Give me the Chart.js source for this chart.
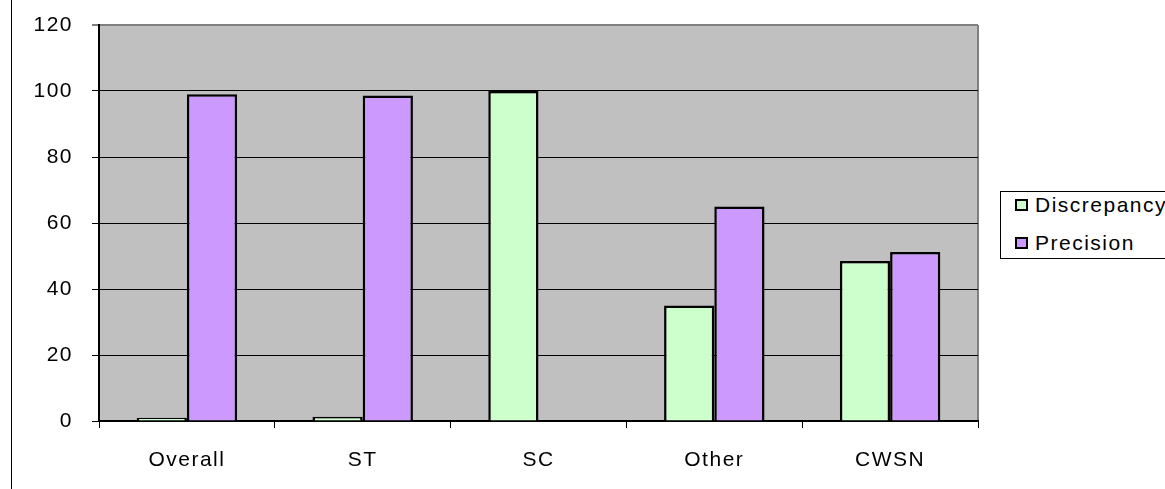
<!DOCTYPE html>
<html>
<head>
<meta charset="utf-8">
<script src="https://cdn.jsdelivr.net/npm/chart.js@4/dist/chart.umd.min.js"></script>
<style>
    body { margin: 0; background: #fff; }
    #wrap { position: relative; width: 1165px; height: 489px; overflow: hidden; }
    #legend {
        position: absolute; left: 1000px; top: 191px; width: 190px; height: 66px;
        border: 1px solid #000; background: #fff;
        font-family: "Liberation Sans", Arial, sans-serif; font-size: 21px; letter-spacing: 1.5px;
    }
    #legend .item { position: absolute; left: 14px; height: 24px; line-height: 24px; white-space: nowrap; }
    #legend .box { display: inline-block; width: 9px; height: 8px; border: 2px solid #000; margin-right: 7px; vertical-align: 1px; }
</style>
</head>
<body>
<div id="wrap">
    <canvas id="chart" width="1165" height="489"></canvas>
    <div id="legend"></div>
</div>
<script>
// Chart data
const categories = ['Overall', 'ST', 'SC', 'Other', 'CWSN'];
const discrepancy = [1, 1.3, 100, 35, 48.5];
const precision = [99, 98.6, 0, 65, 51.2];
const seriesNames = ['Discrepancy', 'Precision'];
const seriesColors = ['#CCFFCC', '#CC99FF'];

const FONT = '"Liberation Sans", Arial, sans-serif';

// Grey plot background, grey right edge, left page rule, letter spacing
const plotBackground = {
    id: 'plotBackground',
    beforeLayout(chart) {
        chart.ctx.letterSpacing = '1.5px';
    },
    beforeDraw(chart) {
        const { ctx, chartArea: a } = chart;
        ctx.letterSpacing = '1.5px';
        ctx.save();
        ctx.fillStyle = '#C0C0C0';
        ctx.fillRect(a.left, a.top, a.right - a.left, a.bottom - a.top);
        ctx.strokeStyle = '#808080';
        ctx.lineWidth = 2;
        ctx.beginPath();
        ctx.moveTo(a.right, a.top);
        ctx.lineTo(a.right, a.bottom);
        ctx.stroke();
        ctx.strokeStyle = '#000';
        ctx.lineWidth = 1;
        ctx.beginPath();
        ctx.moveTo(11.5, 0);
        ctx.lineTo(11.5, chart.height);
        ctx.stroke();
        ctx.restore();
    }
};

const chart = new Chart(document.getElementById('chart').getContext('2d'), {
    type: 'bar',
    data: {
        labels: categories,
        datasets: [
            { label: seriesNames[0], data: discrepancy, backgroundColor: seriesColors[0] },
            { label: seriesNames[1], data: precision, backgroundColor: seriesColors[1] }
        ].map(d => ({
            ...d,
            borderColor: '#000',
            borderWidth: 2.5,
            categoryPercentage: 2 / 3.5,
            barPercentage: 1
        }))
    },
    options: {
        responsive: false,
        animation: false,
        layout: { padding: { top: 25, right: 187, left: 0, bottom: 0 } },
        plugins: {
            legend: { display: false },
            tooltip: { enabled: false }
        },
        scales: {
            x: {
                grid: {
                    offset: true,
                    drawOnChartArea: false,
                    color: '#000',
                    tickLength: 7
                },
                border: { color: '#000', width: 2 },
                ticks: {
                    color: '#000',
                    font: { family: FONT, size: 21 },
                    padding: 20,
                    maxRotation: 0
                },
                afterFit(scale) { scale.height = 68; }
            },
            y: {
                min: 0,
                max: 120,
                ticks: {
                    stepSize: 20,
                    color: '#000',
                    font: { family: FONT, size: 21 },
                    padding: 19
                },
                grid: {
                    color: ctx => (ctx.tick && ctx.tick.value === 120 ? '#808080' : '#000'),
                    lineWidth: ctx => (ctx.tick && ctx.tick.value === 120 ? 2 : 1),
                    tickLength: 7
                },
                border: { color: '#000', width: 2 },
                afterFit(scale) {
                    scale.width = 99;
                    scale.paddingTop = 0;
                    scale.paddingBottom = 0;
                }
            }
        }
    },
    plugins: [plotBackground]
});

// HTML legend built from the datasets
const legendEl = document.getElementById('legend');
chart.data.datasets.forEach((ds, i) => {
    const item = document.createElement('div');
    item.className = 'item';
    item.style.top = (1 + i * 38) + 'px';
    item.innerHTML = '<span class="box" style="background:' + ds.backgroundColor + '"></span>' + ds.label;
    legendEl.appendChild(item);
});
</script>
</body>
</html>
